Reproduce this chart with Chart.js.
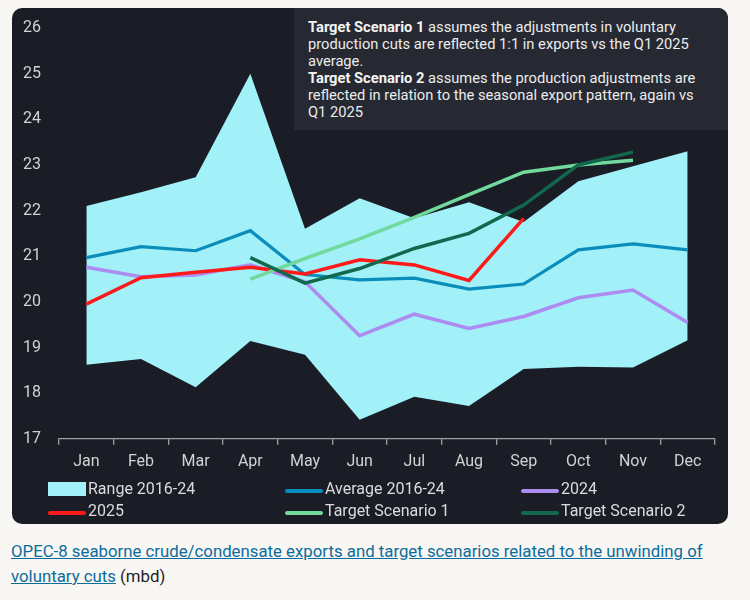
<!DOCTYPE html>
<html>
<head>
<meta charset="utf-8">
<script src="https://cdn.jsdelivr.net/npm/chart.js@4.4.1/dist/chart.umd.min.js"></script>
<style>
  html, body { margin:0; padding:0; background:#f8f7f4; width:750px; height:600px; overflow:hidden; font-family: Roboto, "Noto Sans", sans-serif; }
  #card { position:absolute; left:12px; top:8px; width:716px; height:516px; background:#1b1d26; border-radius:10px; }
  #wrap { position:absolute; left:12px; top:17px; width:716px; height:470px; }
  #note { position:absolute; box-sizing:border-box; left:294px; top:8px; width:434px; height:122px; background:#262932; border-radius:0 10px 0 0; padding:11px 0 0 14px; color:#ececec; font-size:14.7px; line-height:17px; white-space:nowrap; }
  #note b { font-weight:700; color:#f4f4f4; }
  .lg { position:absolute; color:#dcdcdc; font-size:16px; line-height:20px; white-space:nowrap; }
  .sw { position:absolute; }
  #cap { position:absolute; left:11px; top:539px; width:730px; font-size:16.8px; line-height:25px; color:#222; }
  #cap a { color:#0b6c9c; text-decoration:underline; }
</style>
</head>
<body>
<div id="card"></div>
<div id="wrap"><canvas id="c"></canvas></div>
<div id="note"><b>Target Scenario 1</b> assumes the adjustments in voluntary<br>production cuts are reflected 1:1 in exports vs the Q1 2025<br>average.<br><b>Target Scenario 2</b> assumes the production adjustments are<br>reflected in relation to the seasonal export pattern, again vs<br>Q1 2025</div>
<div id="legend"></div>
<div id="cap"><a>OPEC-8 seaborne crude/condensate exports and target scenarios related to the unwinding of<br>voluntary cuts</a> (mbd)</div>
<script>
const months = ['Jan','Feb','Mar','Apr','May','Jun','Jul','Aug','Sep','Oct','Nov','Dec'];
const yTicks = [17,18,19,20,21,22,23,24,25,26];
const rangeHigh = [22.10, 22.40, 22.73, 25.00, 21.60, 22.27, 21.83, 22.18, 21.75, 22.64, 22.97, 23.30];
const rangeLow  = [18.62, 18.75, 18.13, 19.14, 18.84, 17.42, 17.92, 17.72, 18.53, 18.58, 18.56, 19.16];
const average   = [20.97, 21.21, 21.12, 21.56, 20.60, 20.48, 20.52, 20.28, 20.39, 21.14, 21.27, 21.14];
const y2024     = [20.76, 20.55, 20.59, 20.81, 20.44, 19.26, 19.73, 19.42, 19.68, 20.09, 20.26, 19.55];
const y2025     = [19.95, 20.53, 20.65, 20.76, 20.61, 20.92, 20.81, 20.47, 21.83, null, null, null];
const scenario1 = [null, null, null, 20.50, 20.95, 21.38, 21.85, 22.35, 22.84, 23.00, 23.10, null];
const scenario2 = [null, null, null, 20.97, 20.41, 20.73, 21.17, 21.50, 22.12, 23.00, 23.28, null];

const C = { range:'#a2f0f8', avg:'#0b8dbb', y24:'#ad8cf2', y25:'#ff1a1a', s1:'#72d99c', s2:'#12684c' };

function line(label, data, color, w) {
  return { type:'line', label, data, borderColor:color, backgroundColor:color, borderWidth:w, pointRadius:0, fill:false, tension:0, spanGaps:false };
}

const datasets = [
  line('Target Scenario 2', scenario2, C.s2, 3.5),
  line('Target Scenario 1', scenario1, C.s1, 3.5),
  line('2025', y2025, C.y25, 3.5),
  line('2024', y2024, C.y24, 3.5),
  line('Average 2016-24', average, C.avg, 3.2),
  { label:'Range 2016-24', data:rangeHigh, borderWidth:0, borderColor:'rgba(0,0,0,0)', backgroundColor:C.range, pointRadius:0, fill:'+1', tension:0 },
  { label:'Range low', data:rangeLow, borderWidth:0, borderColor:'rgba(0,0,0,0)', backgroundColor:C.range, pointRadius:0, fill:false, tension:0 }
];

new Chart(document.getElementById('c'), {
  type:'line',
  data:{ labels:months, datasets },
  options:{
    responsive:true, maintainAspectRatio:false, animation:false,
    layout:{ padding:{ left:11, right:13, top:11, bottom:7 } },
    plugins:{ legend:{ display:false }, tooltip:{ enabled:false } },
    scales:{
      x:{
        offset:true,
        grid:{ offset:true, drawOnChartArea:false, drawTicks:true, tickLength:6, color:'#a0a0a0', lineWidth:1.3 },
        border:{ display:true, color:'#a0a0a0', width:1.3 },
        ticks:{ color:'#d2d2d2', font:{ family:'Roboto', size:16 }, padding:8, maxRotation:0 }
      },
      y:{
        min:yTicks[0], max:yTicks[yTicks.length-1],
        afterBuildTicks: s => { s.ticks = yTicks.map(v => ({ value:v })); },
        afterFit: s => { s.width = 36; },
        grid:{ display:false }, border:{ display:false },
        ticks:{ color:'#d2d2d2', font:{ family:'Roboto', size:16 }, crossAlign:'far', padding:0 }
      }
    }
  }
});

// HTML legend
const legendItems = [
  { label:'Range 2016-24', color:C.range, box:true, x:48, y:489 },
  { label:'Average 2016-24', color:C.avg, x:285, y:489 },
  { label:'2024', color:C.y24, x:521, y:489 },
  { label:'2025', color:C.y25, x:48, y:511 },
  { label:'Target Scenario 1', color:C.s1, x:285, y:511 },
  { label:'Target Scenario 2', color:C.s2, x:521, y:511 }
];
const lg = document.getElementById('legend');
legendItems.forEach(it => {
  const sw = document.createElement('div');
  sw.className = 'sw';
  sw.style.background = it.color;
  sw.style.left = it.x + 'px';
  sw.style.width = '38px';
  if (it.box) { sw.style.top = (it.y - 7) + 'px'; sw.style.height = '14px'; }
  else { sw.style.top = (it.y) + 'px'; sw.style.height = '4px'; sw.style.borderRadius = '2px'; }
  lg.appendChild(sw);
  const t = document.createElement('div');
  t.className = 'lg';
  t.textContent = it.label;
  t.style.left = (it.x + 40) + 'px';
  t.style.top = (it.y - 10) + 'px';
  lg.appendChild(t);
});
</script>
</body>
</html>
